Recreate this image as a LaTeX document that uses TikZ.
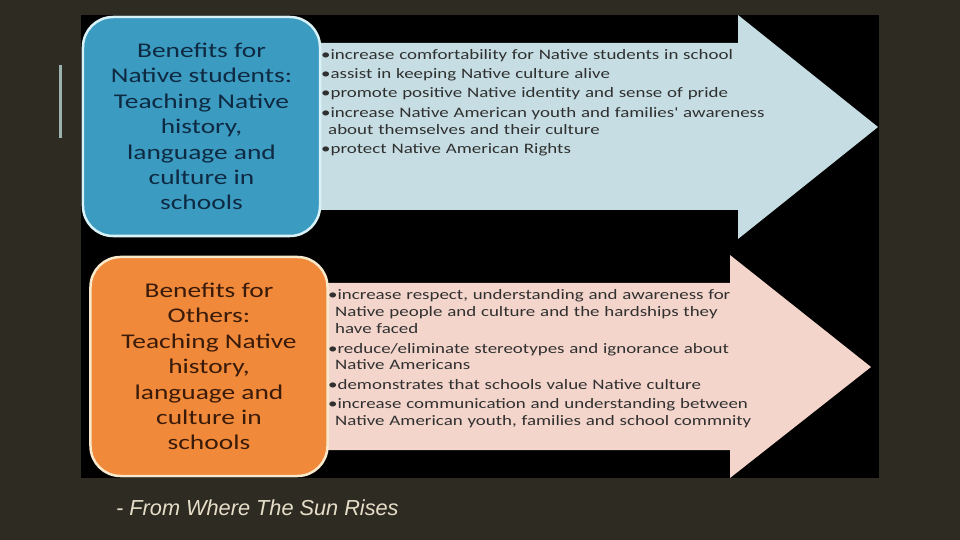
\documentclass[tikz,border=0pt]{standalone}
\usepackage{fontspec}
\setmainfont{Carlito}
\newfontfamily\boxfont[FakeStretch=1.31]{Carlito}
\newfontfamily\listfont[FakeStretch=1.31]{Carlito}
\newfontfamily\capfont{Liberation Sans}
\definecolor{bgdark}{HTML}{2E2B23}
\definecolor{barcol}{HTML}{9CB3AD}
\definecolor{natfill}{HTML}{3C9BC1}
\definecolor{natline}{HTML}{D8F2F8}
\definecolor{nattext}{HTML}{0E2A42}
\definecolor{natarrow}{HTML}{C6DEE3}
\definecolor{othfill}{HTML}{F0893A}
\definecolor{othline}{HTML}{F8E8CC}
\definecolor{othtext}{HTML}{3A1A08}
\definecolor{otharrow}{HTML}{F3D5CB}
\definecolor{itemtext}{HTML}{303030}
\definecolor{captext}{HTML}{E6DEC8}
\newcommand\itm[1]{\par\hangindent=7bp\hangafter=1\noindent\textbullet#1}
\begin{document}
\begin{tikzpicture}[x=1bp,y=-1bp]
		\tikzstyle{box}=[rounded corners=30bp, line width=2.5bp, minimum width=237bp, minimum height=219bp, inner sep=0pt, align=center, font=\boxfont\fontsize{21}{25.5}\selectfont];
		\tikzstyle{items}=[anchor=north west, inner sep=0pt, text width=470bp, align=left, text=itemtext, font=\listfont\fontsize{14.5}{17}\selectfont];
		\fill[bgdark] (0,0) rectangle (960,540);
		\fill[black] (81,15) rectangle (879,478);
		\fill[barcol] (59,65) rectangle (62,138);
		% arrows
		\fill[natarrow] (310,43) -- (738,43) -- (738,15) -- (878,127) -- (738,239) -- (738,210) -- (310,210) -- cycle;
		\fill[otharrow] (318,283) -- (730,283) -- (730,255) -- (871,367) -- (730,478) -- (730,450) -- (318,450) -- cycle;
		% boxes
		\node[box, fill=natfill, draw=natline, text=nattext] (native) at (201.5,126.5)
			{Benefits for\\Native students:\\Teaching Native\\history,\\language and\\culture in\\schools};
		\node[box, fill=othfill, draw=othline, text=othtext] (others) at (209,366.5)
			{Benefits for\\Others:\\Teaching Native\\history,\\language and\\culture in\\schools};
		% lists
		\node[items] (natlist) at (321,40) {\setlength\parskip{2.3bp}%
			\itm{increase comfortability for Native students in school}
			\itm{assist in keeping Native culture alive}
			\itm{promote positive Native identity and sense of pride}
			\itm{increase Native American youth and families' awareness\newline about themselves and their culture}
			\itm{protect Native American Rights}\par};
		\node[items] (othlist) at (328,280.5) {\setlength\parskip{2.3bp}%
			\itm{increase respect, understanding and awareness for\newline Native people and culture and the hardships they\newline have faced}
			\itm{reduce/eliminate stereotypes and ignorance about\newline Native Americans}
			\itm{demonstrates that schools value Native culture}
			\itm{increase communication and understanding between\newline Native American youth, families and school commnity}\par};
		\node[anchor=base west, inner sep=0pt, text=captext, font=\capfont\itshape\fontsize{21.8}{26}\selectfont] (source) at (116,515) {- From Where The Sun Rises};
	\end{tikzpicture}
\end{document}
